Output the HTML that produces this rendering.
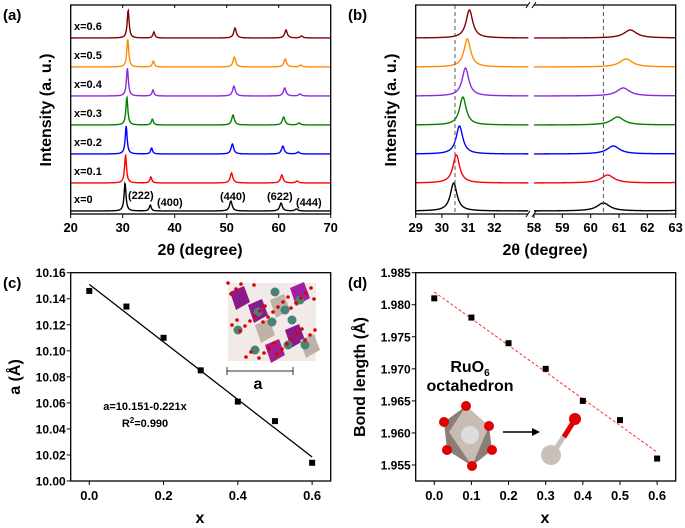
<!DOCTYPE html>
<html><head><meta charset="utf-8"><style>
html,body{margin:0;padding:0;background:#fff;}
svg{display:block;font-family:"Liberation Sans",Arial,sans-serif;font-weight:bold;}
</style></head><body>
<svg id="fig" width="685" height="528" viewBox="0 0 685 528" xmlns="http://www.w3.org/2000/svg"></svg>
<script>
// ---------- data ----------
const seriesLabels = ["x=0","x=0.1","x=0.2","x=0.3","x=0.4","x=0.5","x=0.6"];
const seriesColors = ["#000000","#ff0000","#0000ff","#008000","#8a2be2","#ff8c00","#800000"];
const peakPositions = [30.45, 35.3, 50.8, 60.45, 63.4];
const peakHeights = [28, 6, 10, 8, 2];
const mainPeakShift = [0, 0.1, 0.22, 0.35, 0.45, 0.52, 0.6];
const highPeakShift = [0, 0.15, 0.35, 0.5, 0.7, 0.8, 0.95];
const hklLabels = ["(222)","(400)","(440)","(622)","(444)"];
const xTicksA = [20,30,40,50,60,70];
const xTicksBLeft = [29,30,31,32];
const xTicksBRight = [58,59,60,61,62,63];
const compX = [0,0.1,0.2,0.3,0.4,0.5,0.6];
const latticeA = [10.146,10.134,10.110,10.085,10.061,10.046,10.014];
const fitIntercept = 10.151, fitSlope = -0.221;
const yTicksC = [10.00,10.02,10.04,10.06,10.08,10.10,10.12,10.14,10.16];
const bondLength = [1.981,1.978,1.974,1.970,1.965,1.962,1.956];
const bondFit = [1.982, 1.957];
const yTicksD = [1.955,1.960,1.965,1.970,1.975,1.980,1.985];
const xTicksCD = [0,0.2,0.4,0.6];
const xTicksD = [0,0.1,0.2,0.3,0.4,0.5,0.6];

const NS="http://www.w3.org/2000/svg";
const svg=document.getElementById('fig');
function el(tag,attrs,parent){const e=document.createElementNS(NS,tag);for(const k in attrs)e.setAttribute(k,attrs[k]);(parent||svg).appendChild(e);return e;}
function txt(s,x,y,size,anchor,parent){const t=el('text',{x:x,y:y,'font-size':size,'text-anchor':anchor||'middle',fill:'#000'},parent);t.textContent=s;return t;}
function lor(x,c,w){return 1/(1+((x-c)/w)**2);}
const baselines=[211,183,154,125,96,67,38];

// ---------- panel a ----------
const gA=el('g',{});


const aL=70.7,aR=330.7,aT=5,aB=214;
const xA=v=>aL+(v-20)/50*(aR-aL);
function spec(i,xmin,xmax,toX,parent,widthScale){
  let d='';
  for(let k=0;k<=600;k++){
    const v=xmin+(xmax-xmin)*k/600;
    let y=0;
    peakPositions.forEach((p,j)=>{
      const sh=p<45?mainPeakShift[i]*(p/30.45):highPeakShift[i]*(p/60.45);
      const w=(p<45?0.22:0.3)*widthScale;
      y+=peakHeights[j]*lor(v,p+sh,w);
    });
    d+=(k?'L':'M')+toX(v).toFixed(2)+','+(baselines[i]-y).toFixed(2);
  }
  return el('path',{d:d,fill:'none',stroke:seriesColors[i],'stroke-width':1.4},parent);
}
for(let i=0;i<7;i++){
  const p=spec(i,20,70,xA,gA,1);
  
  
  const t=txt(seriesLabels[i],74,baselines[i]-8,11,'start',gA);
  
  
}
el('rect',{x:aL,y:aT,width:aR-aL,height:aB-aT,fill:'none',stroke:'#000','stroke-width':1.3},gA);
xTicksA.forEach(v=>{el('line',{x1:xA(v),x2:xA(v),y1:aB,y2:aB+4,stroke:'#000'},gA);el('line',{x1:xA(v),x2:xA(v),y1:aT,y2:aT+3,stroke:'#000'},gA);txt(String(v),xA(v),232,13,'middle',gA);});
[[128,199],[157,206],[220,200],[267,200],[296,206]].forEach((pp,j)=>{txt(hklLabels[j],pp[0],pp[1],11,'start',gA);});
const ta=txt('2θ (degree)',200,255,16,'middle',gA);
const ya=txt('Intensity (a. u.)',0,0,16,'middle',gA);ya.setAttribute('transform','translate(51,110) rotate(-90)');
txt('(a)',3,20,15,'start',gA);

// ---------- panel b ----------
const gB=el('g',{});


const bL=415.7,bR=675.7,bBrk1=528,bBrk2=534;
const xBl=v=>bL+(v-29)*26.2;
const xBr=v=>bBrk2+(v-58)*28.33;
for(let i=0;i<7;i++){
  const p1=spec(i,29,33.3,xBl,gB,0.7);
  
  
  const p2=spec(i,58,63,xBr,gB,0.9);
  
  
}
el('line',{x1:xBl(30.5),x2:xBl(30.5),y1:aT,y2:aB,stroke:'#555','stroke-dasharray':'4,3'},gB);
el('line',{x1:xBr(60.45),x2:xBr(60.45),y1:aT,y2:aB,stroke:'#555','stroke-dasharray':'4,3'},gB);
el('path',{d:`M${bBrk1},${aT}H${bL}V${aB}H${bBrk1}M${bBrk2},${aT}H${bR}V${aB}H${bBrk2}`,fill:'none',stroke:'#000','stroke-width':1.3},gB);
[bBrk1,bBrk2].forEach(x=>{el('line',{x1:x-2,x2:x+2,y1:aT+3,y2:aT-3,stroke:'#000'},gB);el('line',{x1:x-2,x2:x+2,y1:aB+3,y2:aB-3,stroke:'#000'},gB);});
xTicksBLeft.forEach(v=>{el('line',{x1:xBl(v),x2:xBl(v),y1:aB,y2:aB+4,stroke:'#000'},gB);txt(String(v),xBl(v),232,13,'middle',gB);});
xTicksBRight.forEach(v=>{el('line',{x1:xBr(v),x2:xBr(v),y1:aB,y2:aB+4,stroke:'#000'},gB);txt(String(v),xBr(v),232,13,'middle',gB);});
const tb=txt('2θ (degree)',545,255,16,'middle',gB);
const yb=txt('Intensity (a. u.)',0,0,16,'middle',gB);yb.setAttribute('transform','translate(396,110) rotate(-90)');
txt('(b)',348,20,15,'start',gB);

// ---------- panel c ----------
const gC=el('g',{});


const cL=70.7,cR=330.7,cT=272.7,cB=481;
const xC=v=>cL+(v+0.05)/0.7*(cR-cL);
const yC=v=>cB-(v-10.00)/0.16*(cB-cT);
el('rect',{x:cL,y:cT,width:cR-cL,height:cB-cT,fill:'none',stroke:'#000','stroke-width':1.3},gC);
yTicksC.forEach(v=>{el('line',{x1:cL-4,x2:cL,y1:yC(v),y2:yC(v),stroke:'#000'},gC);txt(v.toFixed(2),cL-5,yC(v)+4.5,12,'end',gC);});
xTicksCD.forEach(v=>{el('line',{x1:xC(v),x2:xC(v),y1:cB,y2:cB+4,stroke:'#000'},gC);txt(v.toFixed(1),xC(v),500,13,'middle',gC);});
const fl=el('line',{x1:xC(0),y1:yC(fitIntercept),x2:xC(0.6),y2:yC(fitIntercept+fitSlope*0.6),stroke:'#000','stroke-width':1.3},gC);


compX.forEach((x,i)=>{const r=el('rect',{x:xC(x)-3,y:yC(latticeA[i])-3,width:6,height:6,fill:'#000'},gC);

});
txt('a=10.151-0.221x',145,410,11,'middle',gC);
const r2=txt('',145,427,11,'middle',gC);r2.innerHTML='R<tspan dy="-4" font-size="8">2</tspan><tspan dy="4">=0.990</tspan>';
const ins=el('g',{},gC);


el('rect',{x:228,y:283,width:88,height:78,fill:'#e8dcd6',opacity:0.6},ins);
[[230,292,'#8b1a8b'],[248,305,'#8b1a8b'],[290,288,'#a020a0'],[285,330,'#8b1a8b'],[265,345,'#a02090'],[255,325,'#bfb0a8'],[300,340,'#bfb0a8'],[270,300,'#bfb0a8']].forEach(p=>el('polygon',{points:`${p[0]},${p[1]} ${p[0]+14},${p[1]-6} ${p[0]+20},${p[1]+10} ${p[0]+6},${p[1]+18}`,fill:p[2]},ins));
[[238,330],[255,350],[272,322],[275,292],[285,310],[292,320],[305,345],[288,345],[258,312],[300,300]].forEach(p=>el('circle',{cx:p[0],cy:p[1],r:4.5,fill:'#4a8278'},ins));
for(let i=0;i<40;i++){const x=228+(i*37%88),y=283+(i*23%78);el('circle',{cx:x,cy:y,r:1.8,fill:'#e00000'},ins);}
el('line',{x1:227,x2:293,y1:371,y2:371,stroke:'#333','stroke-width':1},gC);
el('line',{x1:227,x2:227,y1:367,y2:375,stroke:'#333'},gC);el('line',{x1:293,x2:293,y1:367,y2:375,stroke:'#333'},gC);
txt('a',258,389,16,'middle',gC);
const tc=txt('x',200,523,16,'middle',gC);
const yc=txt('a (Å)',0,0,16,'middle',gC);yc.setAttribute('transform','translate(20,377) rotate(-90)');
txt('(c)',3,288,15,'start',gC);

// ---------- panel d ----------
const gD=el('g',{});


const dL=415.7,dR=675.7,dT=272.7,dB=481;
const xD=v=>dL+(v+0.05)/0.7*(dR-dL);
const yD=v=>dB-(v-1.9525)/0.0325*(dB-dT);
el('rect',{x:dL,y:dT,width:dR-dL,height:dB-dT,fill:'none',stroke:'#000','stroke-width':1.3},gD);
yTicksD.forEach(v=>{el('line',{x1:dL-4,x2:dL,y1:yD(v),y2:yD(v),stroke:'#000'},gD);txt(v.toFixed(3),dL-5,yD(v)+4.5,12,'end',gD);});
xTicksD.forEach(v=>{el('line',{x1:xD(v),x2:xD(v),y1:dB,y2:dB+4,stroke:'#000'},gD);txt(v.toFixed(1),xD(v),500,13,'middle',gD);});
const df=el('line',{x1:xD(0),y1:yD(bondFit[0]),x2:xD(0.6),y2:yD(bondFit[1]),stroke:'#ff3030','stroke-width':1,'stroke-dasharray':'3,2'},gD);


compX.forEach((x,i)=>{const r=el('rect',{x:xD(x)-3,y:yD(bondLength[i])-3,width:6,height:6,fill:'#000'},gD);

});
const ru=txt('',470,372,16,'middle',gD);ru.innerHTML='RuO<tspan dy="4" font-size="10">6</tspan>';
txt('octahedron',470,391,16,'middle',gD);
const oct=el('g',{},gD);


el('polygon',{points:'466,406 489,426 492,450 472,466 447,450 444,422',fill:'#8a7f78'},oct);
el('polygon',{points:'466,406 489,426 472,466 449,432',fill:'#c8bcb5'},oct);
el('circle',{cx:470,cy:435,r:9,fill:'#ddd'},oct);
[[466,406],[489,426],[492,450],[472,466],[447,450],[444,422]].forEach(p=>el('circle',{cx:p[0],cy:p[1],r:5,fill:'#e00000'},oct));
el('line',{x1:503,x2:535,y1:432,y2:432,stroke:'#000','stroke-width':1.5},gD);
el('polygon',{points:'540,432 532,428 532,436',fill:'#000'},gD);
el('line',{x1:553,x2:574,y1:453,y2:421,stroke:'#c9c0ba','stroke-width':5},gD);
el('line',{x1:564,x2:574,y1:437,y2:421,stroke:'#e00000','stroke-width':5},gD);
el('circle',{cx:575,cy:419,r:6,fill:'#e00000'},gD);
el('circle',{cx:551,cy:455,r:10,fill:'#c9c0ba'},gD);
const td=txt('x',545,523,16,'middle',gD);
const yd=txt('Bond length (Å)',0,0,16,'middle',gD);yd.setAttribute('transform','translate(365,377) rotate(-90)');
txt('(d)',348,288,15,'start',gD);
</script>
</body></html>
